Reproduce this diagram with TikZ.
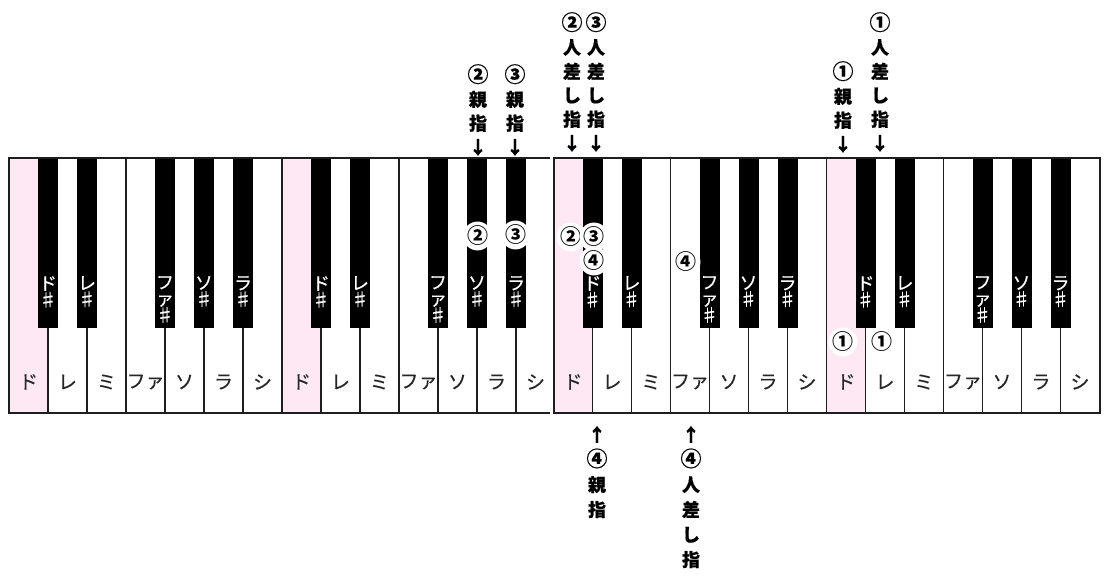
\documentclass[tikz,border=0pt]{standalone}
\usepackage{fontspec}
\usetikzlibrary{calc}
\newfontfamily\jp{Noto Sans CJK JP}
\newfontfamily\jplab[FakeBold=0.3]{Noto Sans CJK JP}
\newfontfamily\jpnote[FakeBold=0.5]{Noto Sans CJK JP}
\newcommand{\cdg}[1]{{\fontsize{21}{21}\selectfont #1}}
\definecolor{keypink}{HTML}{FDE8F4}
\definecolor{keyline}{HTML}{1E1E1E}
\begin{document}
\begin{tikzpicture}[x=1pt,y=-1pt,
  wkey/.style={draw=keyline, line width=1.3pt, fill=white, minimum width=39pt, minimum height=255pt, anchor=north west, inner sep=0pt, outer sep=0pt},
  pkey/.style={wkey, fill=keypink},
  bkey/.style={fill=black, minimum width=20pt, minimum height=170pt, anchor=north, inner sep=0pt, outer sep=0pt},
  frame/.style={draw=keyline, line width=2pt},
  wlab/.style={font=\jplab\fontsize{19}{19}\selectfont, text=black!85, inner sep=0pt},
  blab/.style={font=\jplab\fontsize{18}{16.5}\selectfont, text=white, align=center, anchor=north, inner sep=0pt},
  note/.style={font=\jpnote\bfseries\fontsize{18}{24}\selectfont, align=center, anchor=north, inner sep=0pt},
  notelow/.style={note, font=\jpnote\bfseries\fontsize{18}{25}\selectfont},
  fmark/.style={circle, fill=white, inner sep=0pt, minimum size=16pt, font=\jp\bfseries\fontsize{21}{21}\selectfont}
]
\useasboundingbox (0,0) rectangle (1112,585);
\fill[white] (0,0) rectangle (1112,585);

% ---------- left keyboard ----------
\foreach \i/\n in {0/ド,1/レ,2/ミ,3/ファ,4/ソ,5/ラ,6/シ,7/ド,8/レ,9/ミ,10/ファ,11/ソ,12/ラ,13/シ}{
  \pgfmathsetmacro{\xx}{9+39*\i}
  \ifnum\i=0 \node[pkey] (LW\i) at (\xx,158) {};
  \else\ifnum\i=7 \node[pkey] (LW\i) at (\xx,158) {};
  \else \node[wkey] (LW\i) at (\xx,158) {};\fi\fi
  \node[wlab] (LWL\i) at ($(LW\i.north)+(0,224)$) {\n};
}
\foreach \i/\n in {1/ド\\♯,2/レ\\♯,4/フ\\ァ\\♯,5/ソ\\♯,6/ラ\\♯,8/ド\\♯,9/レ\\♯,11/フ\\ァ\\♯,12/ソ\\♯,13/ラ\\♯}{
  \pgfmathsetmacro{\xx}{9+39*\i}
  \node[bkey] (LB\i) at (\xx,158) {};
  \node[blab] (LBL\i) at ($(LB\i.north)+(0,118)$) {\n};
}
\draw[frame] (9,158) rectangle (555,413);
\fill[white] (550.3,150) rectangle (553,420);

% ---------- right keyboard ----------
\foreach \i/\n in {0/ド,1/レ,2/ミ,3/ファ,4/ソ,5/ラ,6/シ,7/ド,8/レ,9/ミ,10/ファ,11/ソ,12/ラ,13/シ}{
  \pgfmathsetmacro{\xx}{553.5+39*\i}
  \ifnum\i=0 \node[pkey] (RW\i) at (\xx,158) {};
  \else\ifnum\i=7 \node[pkey] (RW\i) at (\xx,158) {};
  \else \node[wkey] (RW\i) at (\xx,158) {};\fi\fi
  \node[wlab] (RWL\i) at ($(RW\i.north)+(0,224)$) {\n};
}
\foreach \i/\n in {1/ド\\♯,2/レ\\♯,4/フ\\ァ\\♯,5/ソ\\♯,6/ラ\\♯,8/ド\\♯,9/レ\\♯,11/フ\\ァ\\♯,12/ソ\\♯,13/ラ\\♯}{
  \pgfmathsetmacro{\xx}{553.5+39*\i}
  \node[bkey] (RB\i) at (\xx,158) {};
  \node[blab] (RBL\i) at ($(RB\i.north)+(0,118)$) {\n};
}
\draw[frame] (553.5,158) rectangle (1099.5,413);

% ---------- finger marks on keys ----------
\node[fmark] (m1) at (477.5,236) {②};
\node[fmark] (m2) at (515.5,235) {③};
\node[fmark] (m3) at (571,237) {②};
\node[fmark] (m4) at (594,237) {③};
\node[fmark] (m5) at (594,261) {④};
\node[fmark] (m6) at (686,262) {④};
\node[fmark] (m7) at (843,342) {①};
\node[fmark] (m8) at (882,342) {①};

% ---------- annotations ----------
\node[note] (n1) at (478,64) {\cdg{②}\\親\\指\\↓};
\node[note] (n2) at (515,64) {\cdg{③}\\親\\指\\↓};
\node[note] (n3) at (572,12) {\cdg{②}\\人\\差\\し\\指\\↓};
\node[note] (n4) at (596,12) {\cdg{③}\\人\\差\\し\\指\\↓};
\node[note] (n5) at (843,61) {\cdg{①}\\親\\指\\↓};
\node[note] (n6) at (880,12) {\cdg{①}\\人\\差\\し\\指\\↓};
\node[notelow] (n7) at (597,426) {↑\\\cdg{④}\\親\\指};
\node[notelow] (n8) at (691,426) {↑\\\cdg{④}\\人\\差\\し\\指};
\end{tikzpicture}
\end{document}
